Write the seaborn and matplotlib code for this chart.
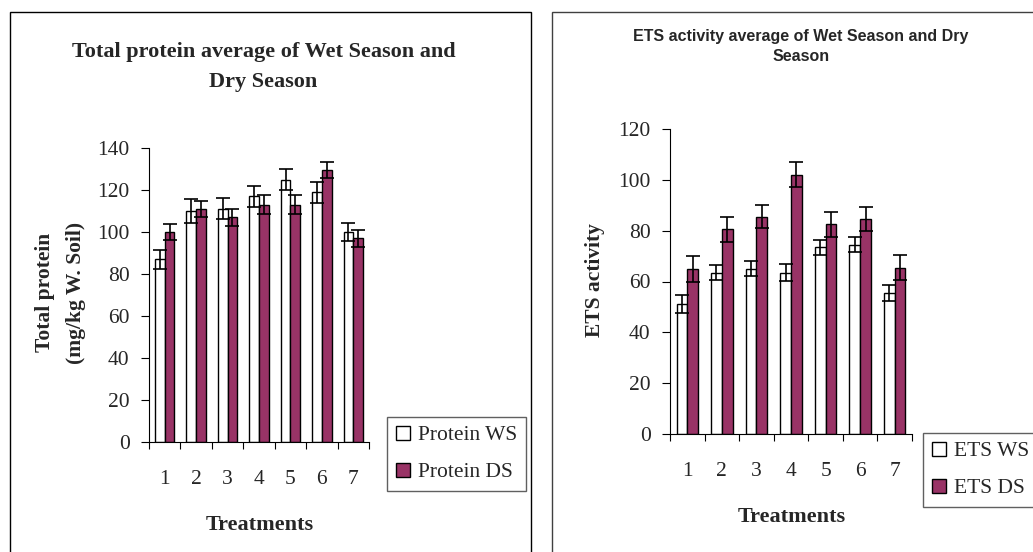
import numpy as np
import pandas as pd
import matplotlib
matplotlib.use('Agg')
import matplotlib.pyplot as plt
import seaborn as sns
from matplotlib.patches import Rectangle
from matplotlib.ticker import MultipleLocator, FixedLocator

# treatments 1..7
treatments = ['1', '2', '3', '4', '5', '6', '7']

# total protein (mg/kg W. Soil)
protein_ws = [87, 110, 111, 117, 125, 119, 100]
protein_ws_err = [4.5, 5.5, 5, 5, 5, 5, 4.5]
protein_ds = [100, 111, 107, 113, 113, 129.5, 97]
protein_ds_err = [4, 4, 4, 4.5, 4.5, 3.7, 4]

# ETS activity
ets_ws = [51, 63.5, 65, 63.5, 73.5, 74.5, 55.5]
ets_ws_err = [3.5, 3, 3, 3.4, 3, 3, 3.3]
ets_ds = [65, 80.5, 85.5, 102, 82.5, 84.5, 65.5]
ets_ds_err = [5, 5, 4.6, 5, 4.8, 4.8, 5]

PLUM = '#993366'
W, H = 1033, 552
TICK_FS = 15.5
LAB_FS = 15.5

sns.set_theme(style='white')
plt.rcParams['font.family'] = ['Liberation Serif', 'DejaVu Serif']

fig = plt.figure(figsize=(W / 100, H / 100), dpi=100)


def fx(px):
    return px / W


def fy(py):
    return 1 - py / H


def panel(ax, ws, ws_err, ds, ds_err, labels, ymax, ystep):
    df = pd.DataFrame({
        'Treatment': treatments * 2,
        'value': list(ws) + list(ds),
        'series': [labels[0]] * 7 + [labels[1]] * 7,
    })
    sns.barplot(data=df, x='Treatment', y='value', hue='series',
                palette={labels[0]: 'white', labels[1]: PLUM},
                saturation=1, edgecolor='black', linewidth=1.0, width=0.62,
                errorbar=None, ax=ax)
    for cont, err in zip(ax.containers, [ws_err, ds_err]):
        xs = [p.get_x() + p.get_width() / 2 for p in cont.patches]
        ys = [p.get_height() for p in cont.patches]
        ax.errorbar(xs, ys, yerr=err, fmt='none', ecolor='black',
                    elinewidth=1.2, capsize=5, capthick=1.2, zorder=5)
    ax.set_xlim(-0.5, 6.5)
    ax.set_ylim(0, ymax)
    ax.yaxis.set_major_locator(MultipleLocator(ystep))
    ax.xaxis.set_minor_locator(FixedLocator(np.arange(-0.5, 7, 1)))
    ax.tick_params(axis='x', which='major', length=0, pad=20.5, labelsize=TICK_FS)
    ax.tick_params(axis='x', which='minor', bottom=True, length=5, width=0.8,
                   direction='out', color='black')
    ax.tick_params(axis='y', left=True, length=6, width=0.8, direction='out',
                   pad=8, labelsize=TICK_FS, color='black')
    ax.set_xlabel('')
    ax.set_ylabel('')
    for s in ['top', 'right']:
        ax.spines[s].set_visible(False)
    for s in ['left', 'bottom']:
        ax.spines[s].set_color('black')
        ax.spines[s].set_linewidth(0.8)
    ax.set_facecolor('white')


# panel frames
fig.patches.append(Rectangle((fx(10), -0.01), fx(521), fy(12) + 0.01,
                             transform=fig.transFigure, fill=False,
                             edgecolor='black', linewidth=1.0))
fig.patches.append(Rectangle((fx(552), -0.01), fx(500), fy(12) + 0.01,
                             transform=fig.transFigure, fill=False,
                             edgecolor='#404040', linewidth=1.0))

# left chart
ax1 = fig.add_axes([fx(149), fy(442), fx(220), fy(148) - fy(442)])
panel(ax1, protein_ws, protein_ws_err, protein_ds, protein_ds_err,
      ['Protein WS', 'Protein DS'], 140, 20)

fig.text(fx(264), fy(57), 'Total protein average of Wet Season and',
         ha='center', va='baseline', fontsize=16, fontweight='bold')
fig.text(fx(263), fy(87), 'Dry Season',
         ha='center', va='baseline', fontsize=16, fontweight='bold')
fig.text(fx(45), fy(292), 'Total protein', rotation=90, ha='center',
         va='center', fontsize=15.5, fontweight='bold')
fig.text(fx(76), fy(293), '(mg/kg W. Soil)', rotation=90, ha='center',
         va='center', fontsize=15.5, fontweight='bold')
fig.text(fx(260), fy(525), 'Treatments', ha='center', va='center',
         fontsize=LAB_FS + 0.5, fontweight='bold')

sns.move_legend(ax1, 'upper left', bbox_to_anchor=(fx(387), fy(417)),
                bbox_transform=fig.transFigure, title=None, frameon=True,
                fontsize=TICK_FS, handlelength=0.65, handleheight=0.65,
                handletextpad=0.4, labelspacing=0.8, borderpad=0.4,
                borderaxespad=0, fancybox=False, edgecolor='#606060',
                framealpha=1)

# right chart
ax2 = fig.add_axes([fx(670), fy(434), fx(242), fy(129) - fy(434)])
panel(ax2, ets_ws, ets_ws_err, ets_ds, ets_ds_err,
      ['ETS WS', 'ETS DS'], 120, 20)

fig.text(fx(801), fy(41), 'ETS activity average of Wet Season and Dry',
         ha='center', va='baseline', fontsize=11.5, fontweight='bold',
         family=['Liberation Sans', 'DejaVu Sans'])
fig.text(fx(801), fy(61), 'Season',
         ha='center', va='baseline', fontsize=11.5, fontweight='bold',
         family=['Liberation Sans', 'DejaVu Sans'])
fig.text(fx(595), fy(280), 'ETS activity', rotation=90, ha='center',
         va='center', fontsize=15.5, fontweight='bold')
fig.text(fx(792), fy(517), 'Treatments', ha='center', va='center',
         fontsize=LAB_FS + 0.5, fontweight='bold')

sns.move_legend(ax2, 'upper left', bbox_to_anchor=(fx(923), fy(433)),
                bbox_transform=fig.transFigure, title=None, frameon=True,
                fontsize=TICK_FS, handlelength=0.65, handleheight=0.65,
                handletextpad=0.4, labelspacing=0.8, borderpad=0.4,
                borderaxespad=0, fancybox=False, edgecolor='#606060',
                framealpha=1)

fig.savefig('out.png', dpi=100, facecolor='white')
